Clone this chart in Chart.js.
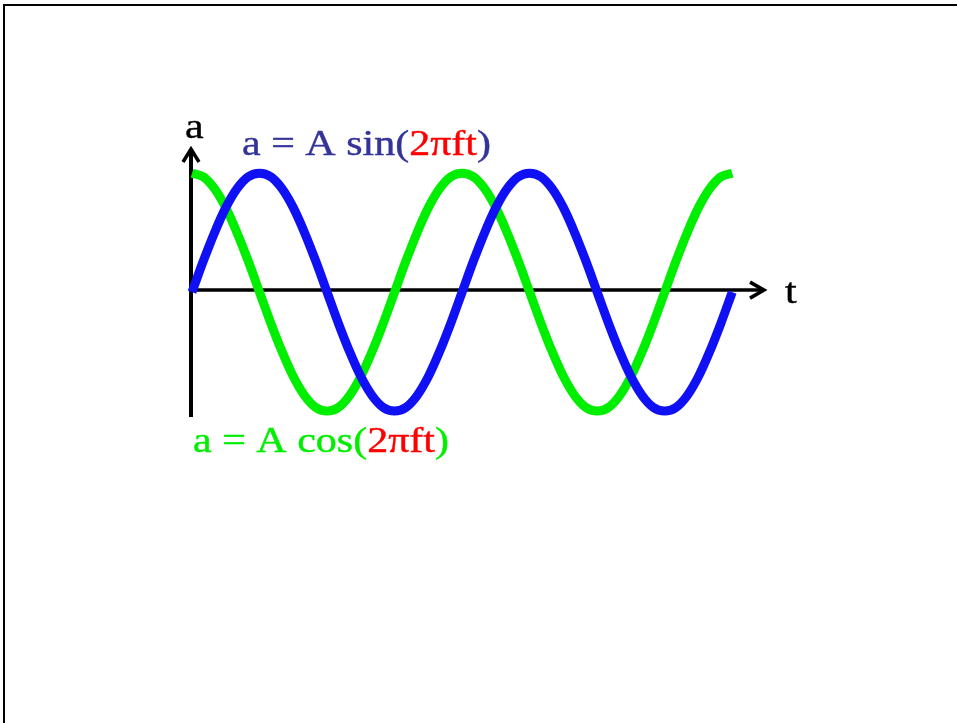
<!DOCTYPE html>
<html>
<head>
<meta charset="utf-8">
<script src="https://cdn.jsdelivr.net/npm/chart.js@4.4.0/dist/chart.umd.min.js"></script>
<style>
  html, body { margin: 0; padding: 0; background: #fff; }
  #wrap { position: relative; width: 957px; height: 723px; overflow: hidden; }
  #frame { position: absolute; left: 3px; top: 4px; width: 1000px; height: 800px;
           border-top: 2px solid #000; border-left: 2px solid #000; }
  canvas { position: absolute; left: 0; top: 0; }
</style>
</head>
<body>
<div id="wrap">
  <div id="frame"></div>
  <canvas id="chart" width="957" height="723"></canvas>
</div>
<script>
// time in steps of 1/24 of a period (two periods shown)
const time = [0, 1, 2, 3, 4, 5, 6, 7, 8, 9, 10, 11, 12, 13, 14, 15, 16, 17, 18, 19, 20, 21, 22, 23,
              24, 25, 26, 27, 28, 29, 30, 31, 32, 33, 34, 35, 36, 37, 38, 39, 40, 41, 42, 43, 44, 45, 46, 47, 48];
// a = A sin(2πft) (A = 1)
const sinValues = [0, 0.26, 0.5, 0.71, 0.87, 0.97, 1, 0.97, 0.87, 0.71, 0.5, 0.26,
                   0, -0.26, -0.5, -0.71, -0.87, -0.97, -1, -0.97, -0.87, -0.71, -0.5, -0.26,
                   0, 0.26, 0.5, 0.71, 0.87, 0.97, 1, 0.97, 0.87, 0.71, 0.5, 0.26,
                   0, -0.26, -0.5, -0.71, -0.87, -0.97, -1, -0.97, -0.87, -0.71, -0.5, -0.26, 0];
// a = A cos(2πft)
const cosValues = [1, 0.97, 0.87, 0.71, 0.5, 0.26, 0, -0.26, -0.5, -0.71, -0.87, -0.97,
                   -1, -0.97, -0.87, -0.71, -0.5, -0.26, 0, 0.26, 0.5, 0.71, 0.87, 0.97,
                   1, 0.97, 0.87, 0.71, 0.5, 0.26, 0, -0.26, -0.5, -0.71, -0.87, -0.97,
                   -1, -0.97, -0.87, -0.71, -0.5, -0.26, 0, 0.26, 0.5, 0.71, 0.87, 0.97, 1];

const toPoints = (vals) => vals.map((v, i) => ({ x: time[i], y: v }));

// axes with arrow heads and the labels, placed from the scales
const axesPlugin = {
  id: "axes",
  beforeDatasetsDraw(chart) {
    const { ctx, scales: { x, y } } = chart;
    const x0 = x.getPixelForValue(0) - 1, y0 = y.getPixelForValue(0) - 2;
    const xEnd = x.getPixelForValue(x.max), yTop = y.getPixelForValue(y.max), yBot = y.getPixelForValue(y.min);
    ctx.save();
    ctx.strokeStyle = "#000";
    ctx.lineWidth = 4;
    ctx.beginPath();
    ctx.moveTo(x0, yBot);
    ctx.lineTo(x0, yTop + 2);
    ctx.stroke();
    ctx.lineWidth = 3.5;
    ctx.beginPath();
    ctx.moveTo(x0, y0);
    ctx.lineTo(xEnd - 2, y0);
    ctx.stroke();
    ctx.beginPath();
    ctx.moveTo(x0 - 8, yTop + 15);
    ctx.lineTo(x0, yTop + 2);
    ctx.lineTo(x0 + 8, yTop + 15);
    ctx.stroke();
    ctx.beginPath();
    ctx.moveTo(xEnd - 16, y0 - 8);
    ctx.lineTo(xEnd - 2, y0);
    ctx.lineTo(xEnd - 16, y0 + 8);
    ctx.stroke();
    ctx.restore();
  },
  afterDraw(chart) {
    const { ctx, scales: { x, y } } = chart;
    const x0 = x.getPixelForValue(0), y0 = y.getPixelForValue(0);
    const xEnd = x.getPixelForValue(x.max), yTop = y.getPixelForValue(y.max), yBot = y.getPixelForValue(y.min);
    const parts = (list, px, py) => {
      ctx.save();
      ctx.font = "35px 'Liberation Serif', 'Times New Roman', serif";
      ctx.textBaseline = "alphabetic";
      ctx.translate(px, py);
      ctx.scale(1.2, 1);
      let cx = 0;
      list.forEach(([txt, col]) => {
        ctx.fillStyle = col;
        ctx.strokeStyle = col;
        ctx.lineWidth = 0.4;
        ctx.fillText(txt, cx, 0);
        ctx.strokeText(txt, cx, 0);
        cx += ctx.measureText(txt).width;
      });
      ctx.restore();
    };
    parts([["a", "#000"]], x0 - 7, yTop - 9);
    parts([["t", "#000"]], xEnd + 19, y0 + 11);
    parts([["a = A sin(", "#333399"], ["2\u03c0ft", "#ff0000"], [")", "#333399"]], x0 + 50, yTop + 8);
    parts([["a = A cos(", "#00ee00"], ["2\u03c0ft", "#ff0000"], [")", "#00ee00"]], x0 + 1, yBot + 35);
  }
};

new Chart(document.getElementById("chart"), {
  type: "line",
  data: {
    datasets: [
      {
        label: "a = A sin(2πft)",
        data: toPoints(sinValues),
        borderColor: "#1010f5",
        borderWidth: 9,
        pointRadius: 0,
        cubicInterpolationMode: "monotone",
        clip: false
      },
      {
        label: "a = A cos(2πft)",
        data: toPoints(cosValues),
        borderColor: "#00ee00",
        borderWidth: 9,
        pointRadius: 0,
        cubicInterpolationMode: "monotone",
        clip: false
      }
    ]
  },
  options: {
    responsive: false,
    animation: false,
    layout: { padding: { left: 192, right: 191, top: 147, bottom: 306 } },
    plugins: { legend: { display: false }, tooltip: { enabled: false } },
    scales: {
      x: { type: "linear", min: 0, max: 51.0, display: false },
      y: { type: "linear", min: -1.05, max: 1.22, display: false }
    }
  },
  plugins: [axesPlugin]
});
</script>
</body>
</html>
